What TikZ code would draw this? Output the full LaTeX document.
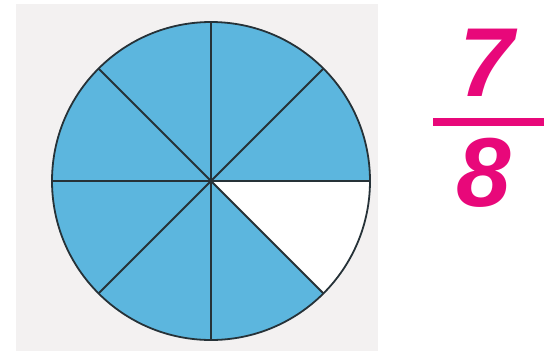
\documentclass[tikz,border=0pt]{standalone}
\usepackage{fontspec}
\usetikzlibrary{calc}
\setmainfont{Liberation Sans}
\definecolor{bluefill}{HTML}{5CB6DE}
\definecolor{pinkfrac}{HTML}{E8087A}
\definecolor{paper}{HTML}{F3F1F1}
\definecolor{inkline}{HTML}{263238}
\begin{document}
\begin{tikzpicture}[x=1pt,y=-1pt,
  radial/.style={draw=inkline,line width=1.8pt},
  digit/.style={text=pinkfrac,font=\fontsize{98}{98}\selectfont\bfseries\itshape,inner sep=0pt,anchor=center}]
\useasboundingbox (0,0) rectangle (554,351);
\fill[white] (0,0) rectangle (554,351);
\fill[paper] (16,4) rectangle (378,351);
\coordinate (c) at (211,181);
\fill[bluefill] (c) -- ++(45:159) arc[start angle=45,end angle=360,radius=159] -- cycle;
\fill[white] (c) -- ++(0:159) arc[start angle=0,end angle=45,radius=159] -- cycle;
\foreach \a in {0,45,90,135}{
  \draw[radial] ($(c)+(\a:159)$) -- ($(c)+(\a+180:159)$);
}
\draw[radial] (c) circle[radius=159];
\node[digit] (num) at (487,63) {7};
\node[digit] (den) at (484,173) {8};
\fill[pinkfrac] (433,117.5) rectangle (544,125.5);
\end{tikzpicture}
\end{document}
